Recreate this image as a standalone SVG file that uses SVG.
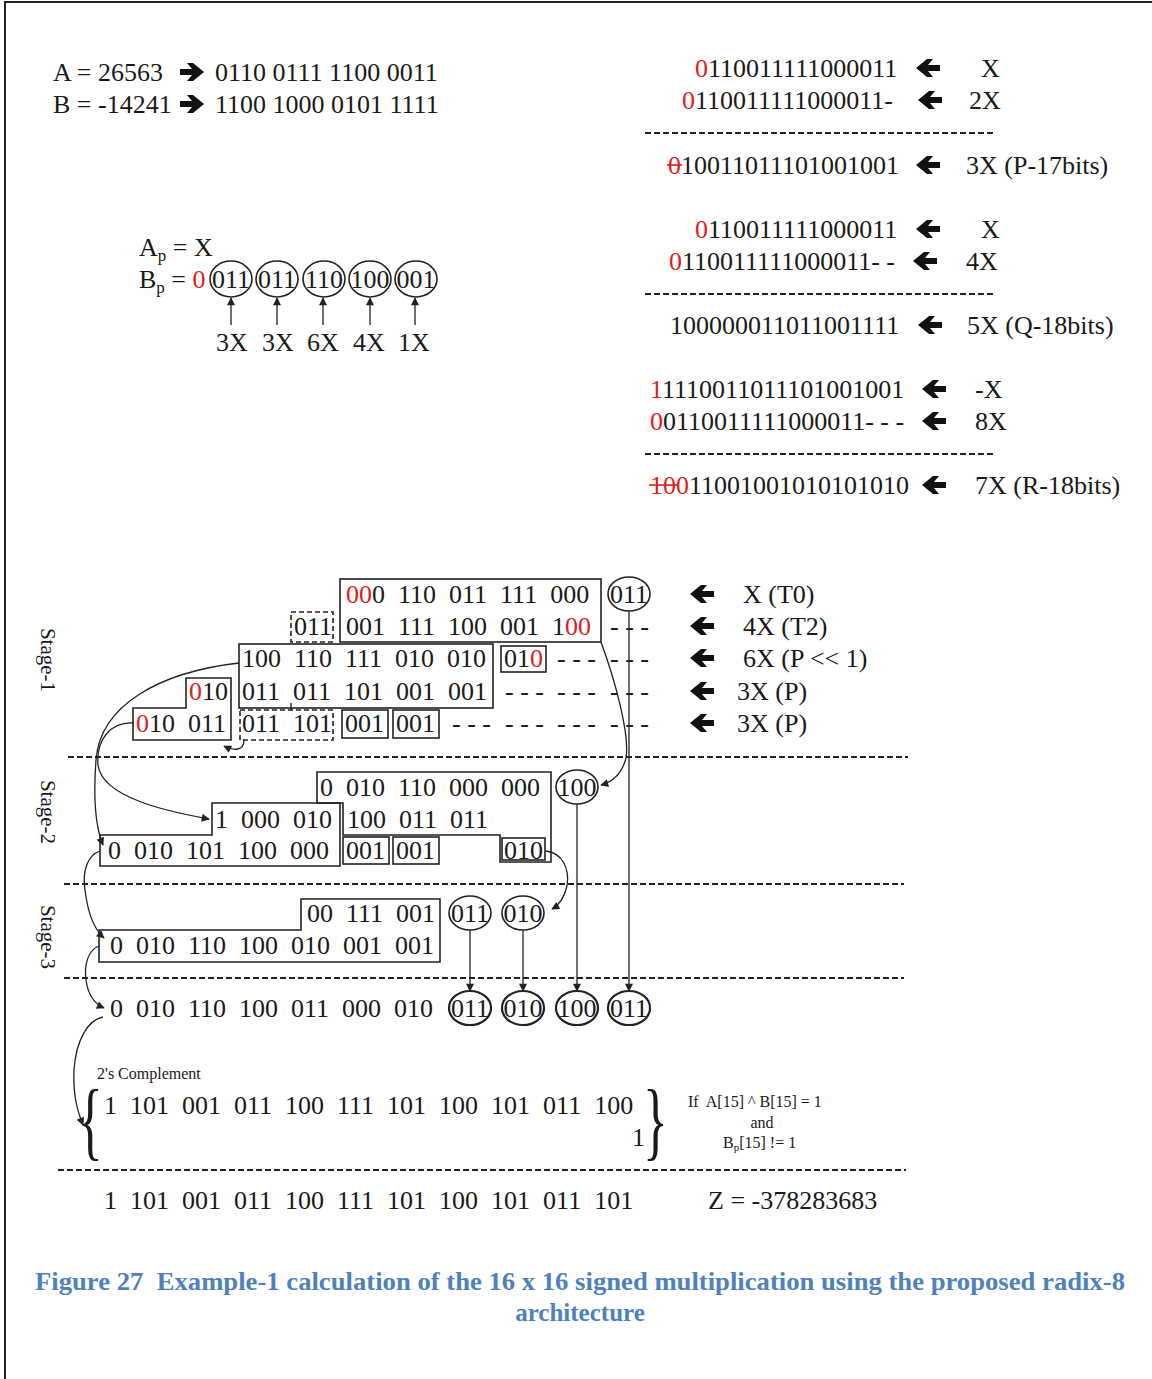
<svg xmlns="http://www.w3.org/2000/svg" width="1152" height="1379" viewBox="0 0 1152 1379">
<style>
.t{font-family:"Liberation Serif","Times New Roman",serif;font-size:26px;fill:#1a1a1a}
.r{fill:#e0201b}
.sm{font-family:"Liberation Serif","Times New Roman",serif;font-size:16px;fill:#1a1a1a}
.st{font-family:"Liberation Serif","Times New Roman",serif;font-size:21px;fill:#1a1a1a}
.cap{font-family:"Liberation Serif","Times New Roman",serif;font-size:25px;font-weight:bold;fill:#4f81bd}
.brace{font-family:"Liberation Serif","Times New Roman",serif;font-size:86px;fill:#1a1a1a}
.box{fill:none;stroke:#222;stroke-width:1.6}
.dbox{fill:none;stroke:#222;stroke-width:1.6;stroke-dasharray:5,3}
.ell{fill:none;stroke:#222;stroke-width:1.6}
.ell2{fill:none;stroke:#222;stroke-width:2.2}
.sep{stroke:#222;stroke-width:2;stroke-dasharray:6,3}
.conn{fill:none;stroke:#222;stroke-width:1.3}
.strike{stroke:#e0201b;stroke-width:1.6}
</style>
<defs>
<marker id="ah" viewBox="0 0 10 10" refX="9" refY="5" markerWidth="9" markerHeight="8" markerUnits="userSpaceOnUse" orient="auto"><path d="M0,0 L10,5 L0,10 z" fill="#222"/></marker>
<path id="rarr" d="M0,-3 H12 L7,-9 H13 L24,0 L13,9 H7 L12,3 H0 Z" fill="#111"/>
<path id="larr" d="M24,-3 H12 L17,-9 H11 L0,0 L11,9 H17 L12,3 H24 Z" fill="#111"/>
</defs>

<path d="M5,1379 V2 H1152" fill="none" stroke="#222" stroke-width="2"/>

<!-- Top-left operands -->
<g id="operands">
<text class="t" x="53" y="81" xml:space="preserve">A = 26563</text>
<use href="#rarr" x="180" y="72"/>
<text class="t" x="215" y="81" xml:space="preserve">0110 0111 1100 0011</text>
<text class="t" x="53" y="113" xml:space="preserve">B = -14241</text>
<use href="#rarr" x="180" y="104"/>
<text class="t" x="215" y="113" xml:space="preserve">1100 1000 0101 1111</text>
</g>

<!-- Top-right precomputation -->
<g id="calc-3x">
<text class="t" x="695" y="77"><tspan class="r">0</tspan>110011111000011</text>
<use href="#larr" x="916" y="68"/>
<text class="t" x="981" y="77">X</text>
<text class="t" x="682" y="109"><tspan class="r">0</tspan>110011111000011-</text>
<use href="#larr" x="918" y="100"/>
<text class="t" x="969" y="109">2X</text>
<line class="sep" x1="645" y1="133" x2="993" y2="133"/>
<text class="t" x="668" y="174"><tspan class="r">0</tspan>10011011101001001</text>
<line class="strike" x1="667" y1="165" x2="682" y2="165"/>
<use href="#larr" x="916" y="165"/>
<text class="t" x="966" y="174">3X (P-17bits)</text>
</g>

<g id="calc-5x">
<text class="t" x="695" y="238"><tspan class="r">0</tspan>110011111000011</text>
<use href="#larr" x="916" y="229"/>
<text class="t" x="981" y="238">X</text>
<text class="t" x="669" y="270" xml:space="preserve"><tspan class="r">0</tspan>110011111000011- -</text>
<use href="#larr" x="913" y="261"/>
<text class="t" x="966" y="270">4X</text>
<line class="sep" x1="645" y1="294" x2="993" y2="294"/>
<text class="t" x="670" y="334">100000011011001111</text>
<use href="#larr" x="918" y="325"/>
<text class="t" x="967" y="334">5X (Q-18bits)</text>
</g>

<g id="calc-7x">
<text class="t" x="650" y="398"><tspan class="r">1</tspan>1110011011101001001</text>
<use href="#larr" x="922" y="389"/>
<text class="t" x="975" y="398">-X</text>
<text class="t" x="650" y="430" xml:space="preserve"><tspan class="r">0</tspan>0110011111000011- - -</text>
<use href="#larr" x="922" y="421"/>
<text class="t" x="975" y="430">8X</text>
<line class="sep" x1="645" y1="454" x2="993" y2="454"/>
<text class="t" x="650" y="494"><tspan class="r">100</tspan>11001001010101010</text>
<line class="strike" x1="649" y1="485" x2="677" y2="485"/>
<use href="#larr" x="922" y="485"/>
<text class="t" x="975" y="494">7X (R-18bits)</text>
</g>

<!-- Ap / Bp recoding -->
<g id="recoding">
<text class="t" x="139" y="256">A<tspan font-size="17" dy="5">p</tspan><tspan dy="-5"> = X</tspan></text>
<text class="t" x="139" y="288">B<tspan font-size="17" dy="5">p</tspan><tspan dy="-5"> = </tspan><tspan class="r">0</tspan></text>
<ellipse class="ell" cx="231" cy="279" rx="21" ry="18"/>
<ellipse class="ell" cx="277" cy="279" rx="21" ry="18"/>
<ellipse class="ell" cx="324" cy="279" rx="21" ry="18"/>
<ellipse class="ell" cx="370" cy="279" rx="21" ry="18"/>
<ellipse class="ell" cx="416" cy="279" rx="21" ry="18"/>
<text class="t" x="231" y="288" text-anchor="middle">011</text>
<text class="t" x="277" y="288" text-anchor="middle">011</text>
<text class="t" x="324" y="288" text-anchor="middle">110</text>
<text class="t" x="370" y="288" text-anchor="middle">100</text>
<text class="t" x="416" y="288" text-anchor="middle">001</text>
<text class="t" x="232" y="351" text-anchor="middle">3X</text>
<text class="t" x="278" y="351" text-anchor="middle">3X</text>
<text class="t" x="323" y="351" text-anchor="middle">6X</text>
<text class="t" x="369" y="351" text-anchor="middle">4X</text>
<text class="t" x="414" y="351" text-anchor="middle">1X</text>
</g>

<!-- Stage labels -->
<text class="st" transform="translate(41,660) rotate(90)" text-anchor="middle">Stage-1</text>
<text class="st" transform="translate(41,812) rotate(90)" text-anchor="middle">Stage-2</text>
<text class="st" transform="translate(41,937) rotate(90)" text-anchor="middle">Stage-3</text>

<!-- Stage 1 -->
<g id="stage1-row1">
<rect class="box" x="340" y="579" width="261" height="63"/>
<text class="t" x="346" y="603" xml:space="preserve"><tspan class="r">00</tspan>0  110  011  111  000</text>
<ellipse class="ell" cx="629" cy="594" rx="21" ry="17"/>
<text class="t" x="629" y="603" text-anchor="middle">011</text>
<use href="#larr" x="690" y="594"/>
<text class="t" x="743" y="603">X (T0)</text>
</g>
<g id="stage1-row2">
<rect class="dbox" x="291" y="612" width="42" height="30"/>
<text class="t" x="294" y="635">011</text>
<text class="t" x="346" y="635" xml:space="preserve">001  111  100  001  1<tspan class="r">00</tspan></text>
<text class="t" x="610" y="635" xml:space="preserve">- - -</text>
<use href="#larr" x="690" y="626"/>
<text class="t" x="743" y="635">4X (T2)</text>
</g>
<g id="stage1-row3">
<rect class="box" x="239" y="644" width="254" height="64"/>
<text class="t" x="242" y="667" xml:space="preserve">100  110  111  010  010</text>
<rect class="box" x="501" y="646" width="45" height="26"/>
<text class="t" x="504" y="667">01<tspan class="r">0</tspan></text>
<text class="t" x="557" y="667" xml:space="preserve">- - -</text>
<text class="t" x="610" y="667" xml:space="preserve">- - -</text>
<use href="#larr" x="690" y="658"/>
<text class="t" x="743" y="667">6X (P &lt;&lt; 1)</text>
</g>
<g id="stage1-row4">
<polygon class="box" points="186,678 231,678 231,740 133,740 133,708 186,708"/>
<text class="t" x="189" y="700"><tspan class="r">0</tspan>10</text>
<text class="t" x="242" y="700" xml:space="preserve">011  011  101  001  001</text>
<text class="t" x="505" y="700" xml:space="preserve">- - -</text>
<text class="t" x="557" y="700" xml:space="preserve">- - -</text>
<text class="t" x="610" y="700" xml:space="preserve">- - -</text>
<use href="#larr" x="690" y="691"/>
<text class="t" x="737" y="700">3X (P)</text>
</g>
<g id="stage1-row5">
<text class="t" x="136" y="732" xml:space="preserve"><tspan class="r">0</tspan>10  011</text>
<rect class="dbox" x="240" y="710" width="93" height="30"/>
<line x1="291" y1="703" x2="291" y2="710" stroke="#222" stroke-width="1.4"/>
<text class="t" x="242" y="732" xml:space="preserve">011  101</text>
<rect class="box" x="342" y="710" width="46" height="28"/>
<text class="t" x="345" y="732">001</text>
<rect class="box" x="393" y="710" width="46" height="28"/>
<text class="t" x="396" y="732">001</text>
<text class="t" x="452" y="732" xml:space="preserve">- - -</text>
<text class="t" x="505" y="732" xml:space="preserve">- - -</text>
<text class="t" x="557" y="732" xml:space="preserve">- - -</text>
<text class="t" x="610" y="732" xml:space="preserve">- - -</text>
<use href="#larr" x="690" y="723"/>
<text class="t" x="737" y="732">3X (P)</text>
</g>

<line class="sep" x1="68" y1="757" x2="908" y2="757"/>

<!-- Stage 2 -->
<g id="stage2-upper">
<polygon class="box" points="317,772 551,772 551,862 500,862 500,835 343,835 343,803 317,803"/>
<text class="t" x="320" y="796" xml:space="preserve">0  010  110  000  000</text>
<text class="t" x="347" y="828" xml:space="preserve">100  011  011</text>
<rect class="box" x="502" y="838" width="43" height="22"/>
<text class="t" x="504" y="859">010</text>
<ellipse class="ell" cx="577" cy="787" rx="21" ry="17"/>
<text class="t" x="577" y="796" text-anchor="middle">100</text>
</g>
<g id="stage2-lower">
<polygon class="box" points="212,803 340,803 340,866 100,866 100,835 212,835"/>
<text class="t" x="215" y="828" xml:space="preserve">1  000  010</text>
<text class="t" x="108" y="859" xml:space="preserve">0  010  101  100  000</text>
<rect class="box" x="343" y="837" width="46" height="27"/>
<text class="t" x="346" y="859">001</text>
<rect class="box" x="393" y="837" width="46" height="27"/>
<text class="t" x="396" y="859">001</text>
</g>

<line class="sep" x1="64" y1="884" x2="904" y2="884"/>

<!-- Stage 3 -->
<g id="stage3">
<polygon class="box" points="301,899 440,899 440,962 99,962 99,930 301,930"/>
<text class="t" x="307" y="922" xml:space="preserve">00  111  001</text>
<text class="t" x="110" y="954" xml:space="preserve">0  010  110  100  010  001  001</text>
<ellipse class="ell" cx="470" cy="913" rx="21" ry="17"/>
<text class="t" x="470" y="922" text-anchor="middle">011</text>
<ellipse class="ell" cx="523" cy="913" rx="21" ry="17"/>
<text class="t" x="523" y="922" text-anchor="middle">010</text>
</g>

<line class="sep" x1="64" y1="978" x2="904" y2="978"/>

<!-- Final sum -->
<g id="sum">
<text class="t" x="110" y="1017" xml:space="preserve">0  010  110  100  011  000  010</text>
<ellipse class="ell2" cx="470" cy="1008" rx="21" ry="17"/>
<text class="t" x="470" y="1017" text-anchor="middle">011</text>
<ellipse class="ell2" cx="523" cy="1008" rx="21" ry="17"/>
<text class="t" x="523" y="1017" text-anchor="middle">010</text>
<ellipse class="ell2" cx="577" cy="1008" rx="21" ry="17"/>
<text class="t" x="577" y="1017" text-anchor="middle">100</text>
<ellipse class="ell2" cx="629" cy="1008" rx="21" ry="17"/>
<text class="t" x="629" y="1017" text-anchor="middle">011</text>
</g>

<!-- Two's complement -->
<g id="complement">
<text class="sm" x="97" y="1079">2's Complement</text>
<text class="brace" transform="translate(78,1149) scale(0.6,1)">{</text>
<text class="t" x="104" y="1114" xml:space="preserve">1  101  001  011  100  111  101  100  101  011  100</text>
<text class="t" x="632" y="1146">1</text>
<text class="brace" transform="translate(643,1149) scale(0.6,1)">}</text>
<text class="sm" x="688" y="1107" xml:space="preserve">If  A[15] ^ B[15] = 1</text>
<text class="sm" x="762" y="1128" text-anchor="middle">and</text>
<text class="sm" x="723" y="1148">B<tspan font-size="11" dy="3">p</tspan><tspan dy="-3">[15] != 1</tspan></text>
</g>

<line class="sep" x1="58" y1="1170" x2="906" y2="1170"/>

<g id="result">
<text class="t" x="104" y="1209" xml:space="preserve">1  101  001  011  100  111  101  100  101  011  101</text>
<text class="t" x="708" y="1209">Z = -378283683</text>
</g>

<!-- Connectors -->
<g id="connectors">
<line class="conn" x1="231" y1="325" x2="231" y2="298" marker-end="url(#ah)"/>
<line class="conn" x1="277" y1="325" x2="277" y2="298" marker-end="url(#ah)"/>
<line class="conn" x1="323" y1="325" x2="323" y2="298" marker-end="url(#ah)"/>
<line class="conn" x1="370" y1="325" x2="370" y2="298" marker-end="url(#ah)"/>
<line class="conn" x1="415" y1="325" x2="415" y2="298" marker-end="url(#ah)"/>
<line class="conn" x1="629" y1="611" x2="629" y2="991" marker-end="url(#ah)"/>
<line class="conn" x1="577" y1="804" x2="577" y2="991" marker-end="url(#ah)"/>
<line class="conn" x1="470" y1="930" x2="470" y2="991" marker-end="url(#ah)"/>
<line class="conn" x1="523" y1="930" x2="523" y2="991" marker-end="url(#ah)"/>
<path class="conn" d="M601,642 C615,680 630,735 626,758 C622,774 612,782 601,785" marker-end="url(#ah)"/>
<path class="conn" d="M239,663 C160,672 100,705 96,760 C93,800 96,828 103,845" marker-end="url(#ah)"/>
<path class="conn" d="M133,723 C110,722 96,740 98,765 C102,798 170,812 209,819" marker-end="url(#ah)"/>
<path class="conn" d="M244,740 C244,751 234,751 224,746" marker-end="url(#ah)"/>
<path class="conn" d="M546,851 C562,853 570,868 567,886 C564,899 559,905 552,909" marker-end="url(#ah)"/>
<path class="conn" d="M100,851 C88,855 82,870 85,890 C88,915 95,930 104,938" marker-end="url(#ah)"/>
<path class="conn" d="M99,946 C88,950 84,965 86,980 C88,995 95,1004 104,1008" marker-end="url(#ah)"/>
<path class="conn" d="M103,1017 C88,1020 76,1040 74,1070 C73,1095 77,1110 83,1125" marker-end="url(#ah)"/>
</g>

<!-- Caption -->
<text class="cap" x="580" y="1290" text-anchor="middle" textLength="1090" lengthAdjust="spacingAndGlyphs" xml:space="preserve">Figure 27  Example-1 calculation of the 16 x 16 signed multiplication using the proposed radix-8</text>
<text class="cap" x="580" y="1321" text-anchor="middle">architecture</text>
</svg>
